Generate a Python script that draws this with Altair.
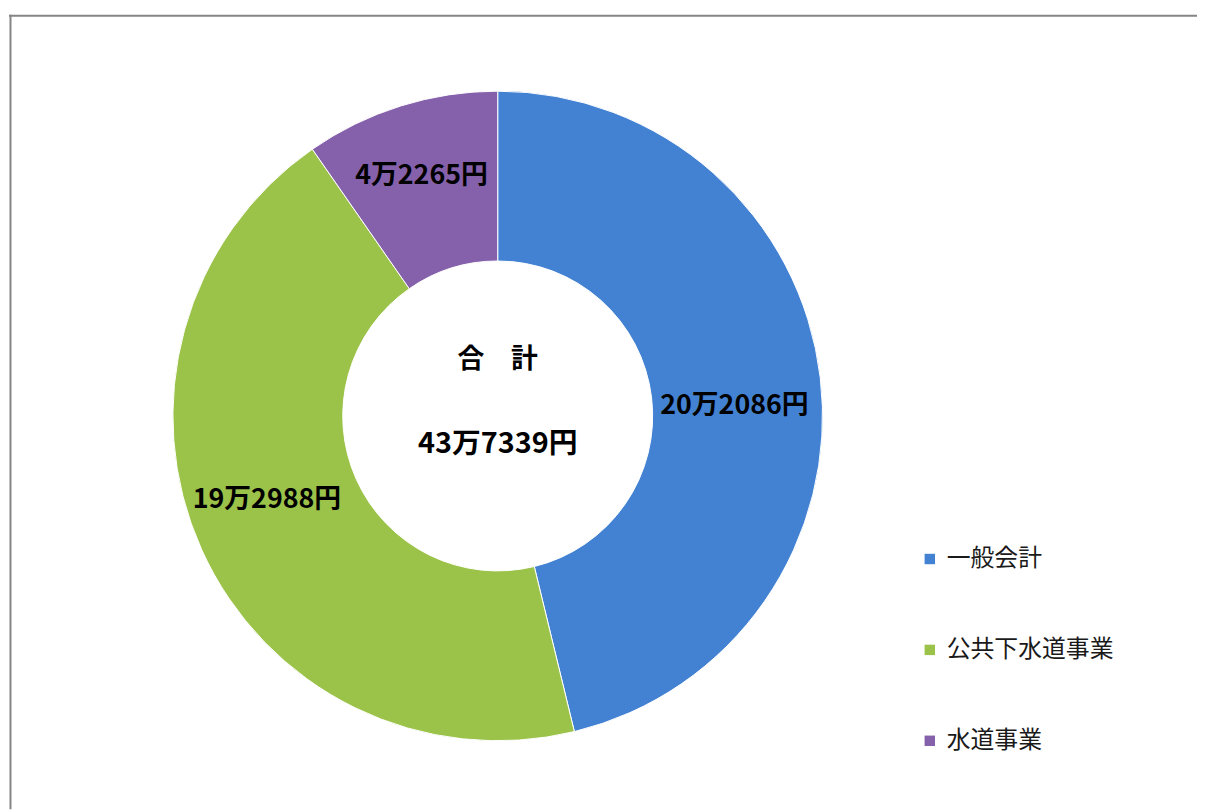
import altair as alt
import pandas as pd

categories = ["一般会計", "公共下水道事業", "水道事業"]
values = [202086, 192988, 42265]
labels = ["20万2086円", "19万2988円", "4万2265円"]
center_title = "合　計"
total_label = "43万7339円"
colors = ["#4382d2", "#9bc249", "#8561ab"]

df = pd.DataFrame({
    "category": categories,
    "value": values,
    "label": labels,
    "order": list(range(len(categories))),
})

FONT = "Noto Sans CJK JP"
CX, CY = 493, 408
TOTAL = sum(values)
TWO_PI = 6.283185307179586

base = alt.Chart(df).encode(
    theta=alt.Theta("value:Q", stack=True),
    order=alt.Order("order:Q"),
)

arcs = base.mark_arc(outerRadius=327, innerRadius=156, stroke="#ffffff", strokeWidth=1).encode(
    x=alt.value(CX),
    y=alt.value(CY),
    color=alt.Color(
        "category:N",
        scale=alt.Scale(domain=categories, range=colors),
        sort=categories,
        legend=alt.Legend(
            title=None,
            orient="none",
            legendX=916,
            legendY=540,
            symbolType="square",
            symbolSize=110,
            symbolStrokeWidth=0,
            labelFont=FONT,
            labelFontSize=24,
            labelColor="#1a1a1a",
            labelOffset=5,
            labelLimit=400,
            rowPadding=67.5,
        ),
    ),
)

# label placement per slice (radius, dx, dy) to mimic the reference layout
label_layout = {
    "一般会計": (238, 2, 18),
    "公共下水道事業": (246, -8, -16),
    "水道事業": (250, -2, -3),
}

value_layers = []
for cat in categories:
    r, ddx, ddy = label_layout[cat]
    value_layers.append(
        alt.Chart(df)
        .transform_window(cum="sum(value)", sort=[alt.SortField("order")])
        .transform_calculate(mid="datum.cum - datum.value / 2")
        .transform_filter(alt.datum.category == cat)
        .mark_text(radius=r, dx=ddx, dy=ddy, font=FONT, fontSize=27,
                   fontWeight="bold", color="#000000")
        .encode(
            theta=alt.Theta("mid:Q", scale=alt.Scale(domain=[0, TOTAL], range=[0, TWO_PI]), stack=None),
            x=alt.value(CX),
            y=alt.value(CY),
            text="label:N",
        )
    )

center_df = pd.DataFrame({"t": [center_title]})
total_df = pd.DataFrame({"t": [total_label]})

title_text = alt.Chart(center_df).mark_text(
    font=FONT, fontSize=27, fontWeight="bold", color="#000000", dy=-56
).encode(x=alt.value(CX), y=alt.value(CY), text="t:N")

total_text = alt.Chart(total_df).mark_text(
    font=FONT, fontSize=29, fontWeight="bold", color="#000000", dy=28
).encode(x=alt.value(CX), y=alt.value(CY), text="t:N")

border_df = pd.DataFrame({"a": [0]})
top_border = alt.Chart(border_df).mark_rule(color="#858585", strokeWidth=2).encode(
    x=alt.value(1), x2=alt.value(1197), y=alt.value(5)
)
left_border = alt.Chart(border_df).mark_rule(color="#858585", strokeWidth=2).encode(
    x=alt.value(2.5), y=alt.value(4), y2=alt.value(804)
)

chart = alt.layer(arcs, *value_layers, title_text, total_text, top_border, left_border).properties(
    width=1197,
    height=804,
    padding=0,
    autosize=alt.AutoSizeParams(type="none"),
    background="#ffffff",
).configure_view(stroke=None)

chart.save("out.html", embed_options={"renderer": "svg", "actions": False})
